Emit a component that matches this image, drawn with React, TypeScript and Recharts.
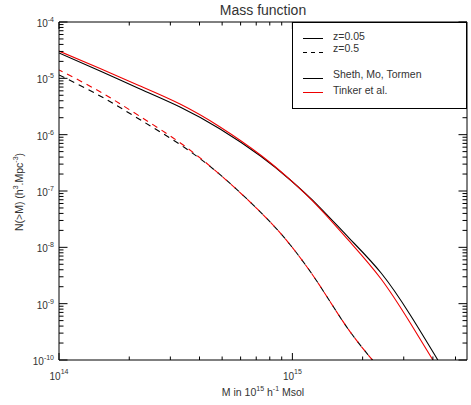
import { LineChart, Line, XAxis, YAxis } from 'recharts'

// ── Data ─────────────────────────────────────────────────────────────────────

// z = 0.05 curves (solid)
const lowZMass = [1e14, 1.5e14, 2.2e14, 3.3e14, 4.9e14, 7.3e14, 9.8e14, 1.3e15, 1.75e15, 2.4e15, 3.2e15]
const smtLowZN = [2.82e-5, 1.35e-5, 6.6e-6, 3.1e-6, 1.26e-6, 4.18e-7, 1.57e-7, 5.3e-8, 1.46e-8, 3.5e-9, 6.3e-10]
const tinkerLowZN = [3.05e-5, 1.49e-5, 7.46e-6, 3.5e-6, 1.37e-6, 4.36e-7, 1.57e-7, 5.09e-8, 1.3e-8, 2.74e-9, 4.53e-10]
// where each solid curve leaves the bottom of the frame
const smtLowZEnd = { m: 4.2e15, n: 1.0e-10 }
const tinkerLowZEnd = { m: 4.0e15, n: 1.0e-10 }

// z = 0.5 curves (dashed)
const highZMass = [1e14, 1.5e14, 2.2e14, 3.3e14, 4.9e14, 7.3e14, 9.8e14, 1.3e15, 1.75e15, 2.4e15]
const smtHighZN = [1.15e-5, 4.86e-6, 1.9e-6, 6.69e-7, 1.95e-7, 4.22e-8, 1.1e-8, 2.2e-9, 3.36e-10, 6.6e-11]
const tinkerHighZN = [1.41e-5, 5.77e-6, 2.17e-6, 7.2e-7, 1.95e-7, 4.22e-8, 1.1e-8, 2.2e-9, 3.36e-10, 6.6e-11]

// axis ticks
const massDomain = [1e14, 5.6e15]
const massTicks = [1e14, 2e14, 3e14, 4e14, 5e14, 6e14, 7e14, 8e14, 9e14, 1e15, 2e15, 3e15, 4e15, 5e15]
const nDomain = [1e-10, 1e-4]
const nDecades = [-10, -9, -8, -7, -6, -5]
const nTicks = [...nDecades.flatMap((e) => [1, 2, 3, 4, 5, 6, 7, 8, 9].map((k) => k * Math.pow(10, e))), 1e-4]

// ── Helpers ──────────────────────────────────────────────────────────────────

const FONT = '"Liberation Sans", Arial, Helvetica, sans-serif'
const TEXT = '#333'
const RED = '#ee0000'

function zip(m: number[], n: number[]) {
  return m.map((v, i) => ({ m: v, n: n[i] }))
}

function isMajor(v: number) {
  const l = Math.log10(v)
  return Math.abs(l - Math.round(l)) < 1e-6
}

function LeftTick(props: any) {
  const { x, y, payload } = props
  const major = isMajor(payload.value)
  const e = Math.round(Math.log10(payload.value))
  return (
    <g>
      <line x1={x} x2={x + (major ? 8.5 : 4.5)} y1={y} y2={y} stroke="#000" />
      {major && (
        <text x={x - 5} y={y + 5} textAnchor="end" fontSize={10} fill={TEXT} fontFamily={FONT}>
          10<tspan dy={-5} fontSize={7}>{e}</tspan>
        </text>
      )}
    </g>
  )
}

function RightTick(props: any) {
  const { x, y, payload } = props
  const major = isMajor(payload.value)
  return <line x1={x} x2={x - (major ? 8.5 : 4.5)} y1={y} y2={y} stroke="#000" />
}

function BottomTick(props: any) {
  const { x, y, payload } = props
  const major = isMajor(payload.value)
  const e = Math.round(Math.log10(payload.value))
  return (
    <g>
      <line x1={x} x2={x} y1={y} y2={y - (major ? 7 : 3.5)} stroke="#000" />
      {major && (
        <text x={x} y={y + 20} textAnchor="middle" fontSize={10} fill={TEXT} fontFamily={FONT}>
          10<tspan dy={-6} fontSize={7}>{e}</tspan>
        </text>
      )}
    </g>
  )
}

function TopTick(props: any) {
  const { x, y, payload } = props
  const major = isMajor(payload.value)
  return <line x1={x} x2={x} y1={y} y2={y + (major ? 7 : 3.5)} stroke="#000" />
}

const axisCommon = {
  type: 'number' as const,
  scale: 'log' as const,
  interval: 0 as const,
  allowDataOverflow: true,
  tickSize: 0,
  tickMargin: 0,
  axisLine: { stroke: '#000' },
}

// ── Component ────────────────────────────────────────────────────────────────

export default function App() {
  const smtLow = [...zip(lowZMass, smtLowZN), smtLowZEnd]
  const tinkerLow = [...zip(lowZMass, tinkerLowZN), tinkerLowZEnd]
  const smtHigh = zip(highZMass, smtHighZN)
  const tinkerHigh = zip(highZMass, tinkerHighZN)

  return (
    <div style={{ position: 'relative', width: 471, height: 405, background: '#fff' }}>
      <style>{'body{margin:0}'}</style>
      <LineChart width={471} height={405} margin={{ top: 21, right: 3, bottom: 44, left: 58 }}>
        <XAxis {...axisCommon} dataKey="m" domain={massDomain} ticks={massTicks} height={1} tick={BottomTick} />
        <XAxis
          {...axisCommon}
          xAxisId="top"
          orientation="top"
          dataKey="m"
          domain={massDomain}
          ticks={massTicks}
          height={1}
          tick={TopTick}
        />
        <YAxis {...axisCommon} domain={nDomain} ticks={nTicks} width={1} tick={LeftTick} />
        <YAxis
          {...axisCommon}
          yAxisId="right"
          orientation="right"
          domain={nDomain}
          ticks={nTicks}
          width={1}
          tick={RightTick}
        />
        <Line
          data={smtLow}
          dataKey="n"
          type="natural"
          stroke="#000"
          strokeWidth={1.1}
          dot={false}
          isAnimationActive={false}
        />
        <Line
          data={tinkerLow}
          dataKey="n"
          type="natural"
          stroke={RED}
          strokeWidth={1.1}
          dot={false}
          isAnimationActive={false}
        />
        <Line
          data={smtHigh}
          dataKey="n"
          type="natural"
          stroke="#000"
          strokeWidth={1.1}
          strokeDasharray="6 5"
          dot={false}
          isAnimationActive={false}
        />
        <Line
          data={tinkerHigh}
          dataKey="n"
          type="natural"
          stroke={RED}
          strokeWidth={1.1}
          strokeDasharray="6 5"
          strokeDashoffset={2}
          dot={false}
          isAnimationActive={false}
        />
      </LineChart>

      {/* Title, axis titles and legend */}
      <svg
        width={471}
        height={405}
        style={{ position: 'absolute', left: 0, top: 0, pointerEvents: 'none' }}
        fontFamily={FONT}
      >
        <text x={263} y={15} textAnchor="middle" fontSize={14} fill={TEXT}>
          Mass function
        </text>
        <text x={263} y={396} textAnchor="middle" fontSize={10.5} fill={TEXT}>
          M in 10<tspan dy={-5} fontSize={7}>15</tspan>
          <tspan dy={5}> h</tspan>
          <tspan dy={-5} fontSize={7}>-1</tspan>
          <tspan dy={5}> Msol</tspan>
        </text>
        <text
          x={23}
          y={192}
          textAnchor="middle"
          fontSize={10.5}
          fill={TEXT}
          transform="rotate(-90 23 192)"
        >
          N(&gt;M) (h<tspan dy={-5} fontSize={7}>3</tspan>
          <tspan dy={5}>.Mpc</tspan>
          <tspan dy={-5} fontSize={7}>-3</tspan>
          <tspan dy={5}>)</tspan>
        </text>

        {/* legend */}
        <rect x={292.5} y={22.5} width={174} height={86} fill="#fff" stroke="#000" />
        <line x1={303} x2={323} y1={38.5} y2={38.5} stroke="#000" />
        <text x={333} y={40} fontSize={10.5} fill={TEXT}>z=0.05</text>
        <line x1={303} x2={323} y1={52.5} y2={52.5} stroke="#000" strokeDasharray="4 4" />
        <text x={333} y={52} fontSize={10.5} fill={TEXT}>z=0.5</text>
        <line x1={303} x2={323} y1={78.5} y2={78.5} stroke="#000" />
        <text x={333} y={78} fontSize={10.5} fill={TEXT}>Sheth, Mo, Tormen</text>
        <line x1={303} x2={323} y1={92.5} y2={92.5} stroke={RED} />
        <text x={333} y={94} fontSize={10.5} fill={TEXT}>Tinker et al.</text>
      </svg>
    </div>
  )
}
